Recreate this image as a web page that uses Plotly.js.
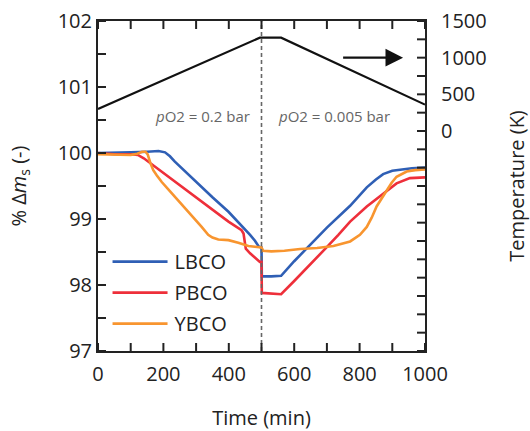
<!DOCTYPE html>
<html>
<head>
<meta charset="utf-8">
<script src="https://cdn.plot.ly/plotly-3.0.1.min.js"></script>
<style>html,body{margin:0;padding:0;background:#fff}#chart{width:530px;height:431px}</style>
</head>
<body>
<div id="chart"></div>
<script>
// ---- data ----
const seriesNames = ["LBCO", "PBCO", "YBCO"];

const timeLBCO = [0, 50, 100, 150, 185, 205, 220, 235, 256, 297, 350, 399, 440, 465, 480, 492, 500, 501, 530, 560, 600, 638, 700, 771, 822, 850, 872, 900, 924, 960, 1000];
const massLBCO = [100.0, 100.0, 100.01, 100.02, 100.03, 100.01, 99.95, 99.87, 99.77, 99.57, 99.33, 99.11, 98.9, 98.76, 98.67, 98.58, 98.57, 98.13, 98.13, 98.14, 98.36, 98.56, 98.87, 99.2, 99.48, 99.6, 99.68, 99.73, 99.75, 99.77, 99.78];

const timePBCO = [0, 50, 100, 122, 140, 159, 200, 250, 300, 350, 399, 439, 445, 452, 465, 495, 500, 501, 530, 560, 600, 650, 699, 735, 771, 822, 872, 913, 954, 1000];
const massPBCO = [100.0, 99.98, 99.98, 99.97, 99.92, 99.85, 99.7, 99.51, 99.33, 99.14, 98.96, 98.83, 98.78, 98.55, 98.48, 98.35, 98.35, 97.88, 97.87, 97.86, 98.06, 98.31, 98.57, 98.76, 98.96, 99.19, 99.39, 99.54, 99.62, 99.63];

const timeYBCO = [0, 50, 100, 120, 135, 145, 152, 160, 169, 180, 195, 215, 235, 256, 276, 297, 317, 337, 350, 368, 399, 429, 445, 460, 480, 500, 505, 530, 570, 618, 670, 720, 771, 801, 822, 837, 852, 868, 883, 898, 913, 930, 944, 970, 1000];
const massYBCO = [99.98, 99.97, 99.97, 99.99, 100.02, 100.02, 99.98, 99.85, 99.74, 99.66, 99.56, 99.45, 99.34, 99.22, 99.1, 98.99, 98.88, 98.76, 98.72, 98.69, 98.68, 98.64, 98.62, 98.59, 98.58, 98.57, 98.52, 98.51, 98.52, 98.545, 98.56, 98.59, 98.66, 98.76, 98.88, 99.02, 99.19, 99.32, 99.44, 99.55, 99.64, 99.69, 99.72, 99.74, 99.75];

const timeTemp = [0, 495, 560, 1000];
const tempK = [300, 1273, 1273, 360];

const switchTime = 500;
const regionLabels = ["<i>p</i>O2 = 0.2 bar", "<i>p</i>O2 = 0.005 bar"];
const regionLabelTimes = [321, 721];
const regionLabelMass = 100.56;
const arrowFrom = [745, 1000];
const arrowTo = [933, 1000];

const xTickVals = [0, 100, 200, 300, 400, 500, 600, 700, 800, 900, 1000];
const xTickText = ["0", "", "200", "", "400", "", "600", "", "800", "", "1000"];
const yTickVals = [97, 97.5, 98, 98.5, 99, 99.5, 100, 100.5, 101, 101.5, 102];
const yTickText = ["97", "", "98", "", "99", "", "100", "", "101", "", "102"];
const y2TickVals = [-3000, -2750, -2500, -2250, -2000, -1750, -1500, -1250, -1000, -750, -500, -250, 0, 250, 500, 750, 1000, 1250, 1500];
const y2TickText = ["", "", "", "", "", "", "", "", "", "", "", "", "0", "", "500", "", "1000", "", "1500"];

// ---- styles ----
const colors = {LBCO: "#2f5fb5", PBCO: "#ee2f3a", YBCO: "#f8952f"};
const FONT = "Open Sans, sans-serif";
const TICK_LEN = 8;
const tickLine = {color: "#222", width: 2};

const traces = [
  {x: timeLBCO, y: massLBCO, name: seriesNames[0], mode: "lines", line: {color: colors.LBCO, width: 2.6}, legendgroup: "a"},
  {x: timePBCO, y: massPBCO, name: seriesNames[1], mode: "lines", line: {color: colors.PBCO, width: 2.6}, legendgroup: "b"},
  {x: timeYBCO, y: massYBCO, name: seriesNames[2], mode: "lines", line: {color: colors.YBCO, width: 2.6}, legendgroup: "c"},
  {x: timeTemp, y: tempK, yaxis: "y2", mode: "lines", line: {color: "#111", width: 2.2}, showlegend: false}
];

const axisCommon = {
  showline: true, linecolor: "#222", linewidth: 2,
  ticks: "", showgrid: false, zeroline: false,
  tickfont: {family: FONT, size: 20, color: "#222"}
};

// inward tick marks, placed through the axes' own scales
const tickShapes = [];
xTickVals.forEach(function (v) {
  tickShapes.push({type: "line", xref: "x", yref: "paper", ysizemode: "pixel", yanchor: 0, x0: v, x1: v, y0: 0, y1: TICK_LEN, line: tickLine});
  tickShapes.push({type: "line", xref: "x", yref: "paper", ysizemode: "pixel", yanchor: 1, x0: v, x1: v, y0: -TICK_LEN, y1: 0, line: tickLine});
});
yTickVals.forEach(function (v) {
  tickShapes.push({type: "line", xref: "paper", yref: "y", xsizemode: "pixel", xanchor: 0, x0: 0, x1: TICK_LEN, y0: v, y1: v, line: tickLine});
});
y2TickVals.forEach(function (v) {
  tickShapes.push({type: "line", xref: "paper", yref: "y2", xsizemode: "pixel", xanchor: 1, x0: -TICK_LEN, x1: 0, y0: v, y1: v, line: tickLine});
});

const layout = {
  width: 530, height: 431,
  margin: {l: 98, r: 105, t: 21, b: 80},
  paper_bgcolor: "#fff", plot_bgcolor: "#fff",
  showlegend: true,
  xaxis: Object.assign({}, axisCommon, {
    range: [0, 1000], tickmode: "array", tickvals: xTickVals, ticktext: xTickText,
    mirror: true, ticklabelstandoff: 4,
    title: {text: "Time (min)", font: {family: FONT, size: 20, color: "#222"}, standoff: 26}
  }),
  yaxis: Object.assign({}, axisCommon, {
    range: [97, 102], tickmode: "array", tickvals: yTickVals, ticktext: yTickText,
    title: {text: "% Δ<i>m</i><sub>s</sub> (-)", font: {family: FONT, size: 20, color: "#222"}, standoff: 26}
  }),
  yaxis2: Object.assign({}, axisCommon, {
    overlaying: "y", side: "right",
    range: [-3000, 1500], tickmode: "array", tickvals: y2TickVals, ticktext: y2TickText,
    ticklabelstandoff: 10,
    title: {text: "Temperature (K)", font: {family: FONT, size: 20, color: "#222"}, standoff: 30}
  }),
  legend: {
    x: 0.02, y: 0.33, xanchor: "left", yanchor: "top",
    bgcolor: "rgba(0,0,0,0)", font: {family: FONT, size: 20, color: "#222"},
    traceorder: "grouped", tracegroupgap: 2, itemwidth: 60
  },
  shapes: [{
    type: "line", xref: "x", yref: "paper", x0: switchTime, x1: switchTime, y0: 0, y1: 1,
    line: {color: "#666", width: 1.6, dash: "4px,3px"}
  }].concat(tickShapes),
  annotations: [
    {x: regionLabelTimes[0], y: regionLabelMass, xref: "x", yref: "y", text: regionLabels[0], showarrow: false,
     font: {family: FONT, size: 15, color: "#666"}},
    {x: regionLabelTimes[1], y: regionLabelMass, xref: "x", yref: "y", text: regionLabels[1], showarrow: false,
     font: {family: FONT, size: 15, color: "#666"}},
    {x: arrowTo[0], y: arrowTo[1], xref: "x", yref: "y2", ax: arrowFrom[0], ay: arrowFrom[1], axref: "x", ayref: "y2",
     text: "", showarrow: true, arrowhead: 2, arrowsize: 1.6, arrowwidth: 2.2, arrowcolor: "#111"}
  ]
};

Plotly.newPlot("chart", traces, layout, {displayModeBar: false, staticPlot: true}).then(function () {
  // lengthen legend line samples to match the reference
  document.querySelectorAll("#chart .legend .js-line").forEach(function (p) {
    p.setAttribute("d", "M8,0h55");
  });
});
</script>
</body>
</html>
